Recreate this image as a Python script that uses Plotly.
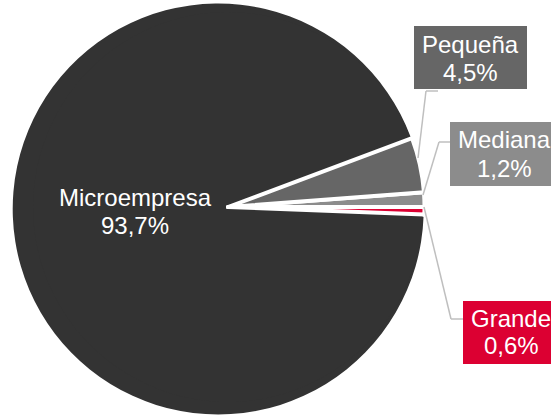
import plotly.graph_objects as go

W, H = 551, 415

# Data
categories = ["Grande", "Mediana", "Pequeña", "Microempresa"]
values = [0.6, 1.2, 4.5, 93.7]
value_labels = ["0,6%", "1,2%", "4,5%", "93,7%"]
colors = ["#dc0032", "#8c8c8c", "#666666", "#333333"]
exploded = [False, False, False, True]   # Microempresa slice pulled out

def px(x):
    return x / W

def py(y):
    return 1 - y / H

CLEAR = "rgba(0,0,0,0)"
fig = go.Figure()

def pie_layer(show, cx, cy, r, lw):
    fig.add_trace(go.Pie(
        labels=categories,
        values=values,
        sort=False,
        direction="counterclockwise",
        rotation=90,
        marker=dict(colors=[c if v else CLEAR for c, v in zip(colors, show)],
                    line=dict(color="white", width=[lw if v else 0 for v in show])),
        textinfo="none",
        hoverinfo="label+percent",
        showlegend=False,
        domain=dict(x=[px(cx - r), px(cx + r)], y=[py(cy + r), py(cy - r)]),
    ))

small = [not e for e in exploded]
# exploded main slice, its core near the pie centre, then the small slices
pie_layer(exploded, 218.2, 209.0, 205.5, 0)
pie_layer(exploded, 228.0, 207.0, 195.0, 0)
pie_layer(small, 228.0, 207.0, 196.5, 4)

font = dict(family="Liberation Sans, Arial, sans-serif", size=24, color="white")

shapes = []
# label boxes: (category index, x0, y0, x1, y1, text cx, line1 cy, line2 cy)
boxes = [
    (2, 414, 26, 527, 89, 470.5, 44.7, 72.4),
    (1, 450, 122, 562, 186, 504, 139.7, 168),
    (0, 463, 301, 562, 364, 511, 318, 345.7),
]
for i, x0, y0, x1, y1, cx, c1, c2 in boxes:
    shapes.append(dict(type="rect", xref="paper", yref="paper",
                       x0=px(x0), y0=py(y1), x1=px(x1), y1=py(y0),
                       fillcolor=colors[i], line=dict(width=0), layer="below"))
    for txt, cy in ((categories[i], c1), (value_labels[i], c2)):
        fig.add_annotation(x=px(cx), y=py(cy), xref="paper", yref="paper",
                           text=txt, showarrow=False, font=font,
                           xanchor="center", yanchor="middle")

for txt, cy in ((categories[3], 197.4), (value_labels[3], 225.4)):
    fig.add_annotation(x=px(135.3), y=py(cy), xref="paper", yref="paper",
                       text=txt, showarrow=False, font=font,
                       xanchor="center", yanchor="middle")

# leader lines
leaders = [
    [(418, 158), (426, 91), (438, 91)],
    [(423, 195), (439, 142), (450, 142)],
    [(424, 207), (451, 319), (463, 319)],
]
for pts in leaders:
    for (x0, y0), (x1, y1) in zip(pts[:-1], pts[1:]):
        shapes.append(dict(type="line", xref="paper", yref="paper",
                           x0=px(x0), y0=py(y0), x1=px(x1), y1=py(y1),
                           line=dict(color="#bfbfbf", width=1.5)))

fig.update_layout(
    width=W, height=H,
    margin=dict(l=0, r=0, t=0, b=0),
    paper_bgcolor="white", plot_bgcolor="white",
    shapes=shapes,
)

fig.write_html("out.html",
               config={"displayModeBar": False},
               post_script="document.body.style.margin='0';document.body.style.overflow='hidden';")
